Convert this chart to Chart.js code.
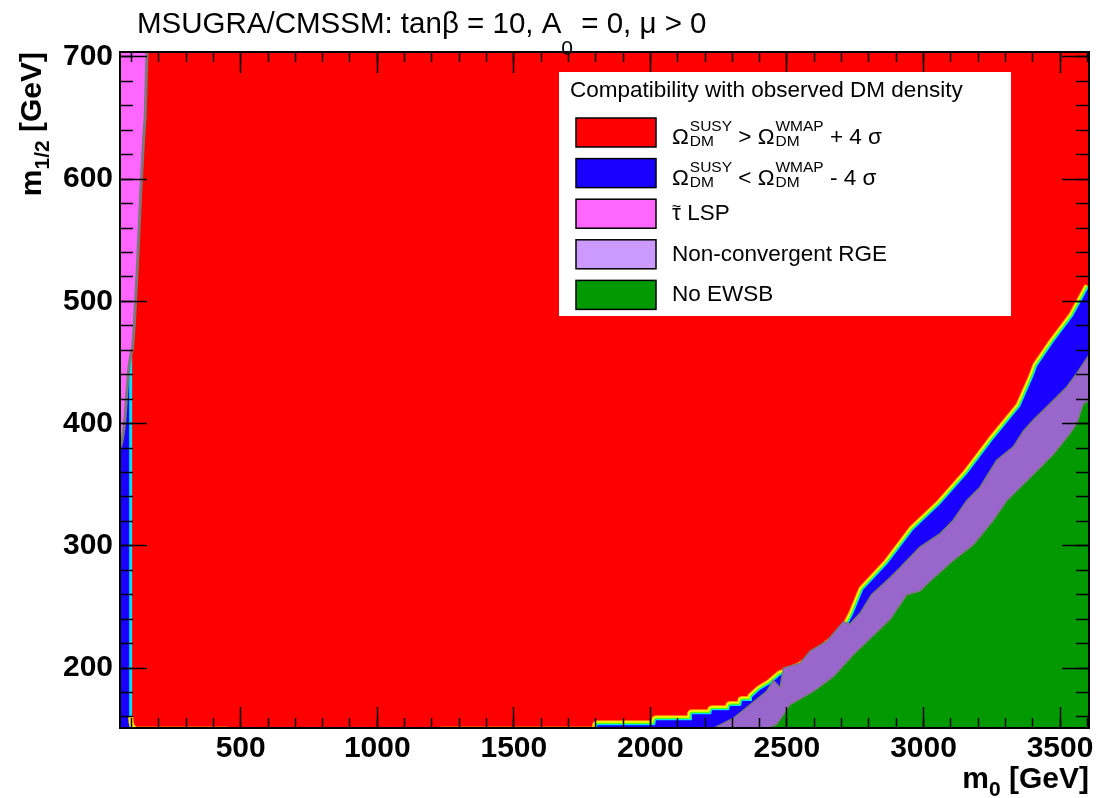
<!DOCTYPE html>
<html>
<head>
<meta charset="utf-8">
<title>MSUGRA/CMSSM DM density</title>
<script src="https://cdn.jsdelivr.net/npm/chart.js@4.4.0/dist/chart.umd.min.js"></script>
<style>
  html, body { margin: 0; padding: 0; background: #fff; }
  #wrap { width: 1100px; height: 798px; }
</style>
</head>
<body>
<div id="wrap"><canvas id="dmChart" width="1100" height="798"></canvas></div>
<script>
// Axis ranges (GeV)
const m0Min = 58, m0Max = 3606;
const m12Min = 151, m12Max = 704;

// Tick values
const m0MajorTicks = [500, 1000, 1500, 2000, 2500, 3000, 3500];
const m12MajorTicks = [200, 300, 400, 500, 600, 700];
const m0MinorTicks = [];
for (let v = 100; v <= 3600; v += 100) m0MinorTicks.push(v);
const m12MinorTicks = [];
for (let v = 160; v <= 700; v += 20) m12MinorTicks.push(v);

// Lower edge of the red region (top of the blue band)
const bandM0 = [1805, 1805, 2017, 2021, 2149, 2152, 2222, 2226, 2288, 2292, 2332, 2336, 2369, 2372, 2401, 2438, 2475, 2548, 2621, 2650, 2705, 2742, 2779, 2867, 2962, 3061, 3160, 3255, 3354, 3401, 3416, 3474, 3548, 3606];
const bandM12 = [150, 153.3, 153.3, 157.4, 157.4, 162.3, 162.3, 165.6, 165.6, 168.9, 168.9, 173, 173, 176.2, 182, 187, 194, 201, 211, 219, 228, 244, 264, 285, 313, 334, 359, 387, 414, 438, 447, 466, 488, 512];

// Top of the non-convergent RGE region
const rgeM0 = [2225, 2304, 2365, 2426, 2450, 2475, 2487, 2548, 2585, 2646, 2707, 2731, 2768, 2810, 2878, 2914, 2987, 3061, 3109, 3158, 3207, 3268, 3329, 3366, 3402, 3476, 3525, 3561, 3606];
const rgeM12 = [150, 159, 170, 181, 190, 184, 200, 204, 214, 222, 238, 236, 245, 260, 274, 282, 299, 310, 321, 337, 348, 370, 381, 394, 403, 419, 430, 441, 456];

// Top of the no-EWSB region
const ewsbM0 = [2414, 2463, 2511, 2597, 2670, 2743, 2804, 2878, 2939, 2987, 3024, 3109, 3183, 3256, 3305, 3378, 3427, 3476, 3537, 3561, 3585, 3606];
const ewsbM12 = [150, 154, 170, 181, 193, 211, 224, 240, 260, 263, 271, 288, 301, 321, 337, 353, 364, 375, 392, 400, 416, 419];

// Right edge of the stau LSP region
const stauM0 = [58, 65, 75, 83, 90, 97, 104, 110, 116, 122, 128, 134, 140, 145, 150, 154, 157];
const stauM12 = [380, 385, 400, 425, 445, 456, 462, 480, 505, 530, 560, 590, 615, 635, 650, 680, 704];

// Thin blue strip at small m0
const stripM0 = [58, 95];
const stripM12 = [458, 458];
const stripEdgeM0 = [97, 97];
const stripEdgeM12 = [152, 456];

// Yellow contour pieces along the bottom edge
const edgeLowM0 = [97, 99, 104, 115, 453];
const edgeLowM12 = [160, 155, 152, 150, 150];
const edgeMidM0 = [1233, 1805];
const edgeMidM12 = [150, 150];

// Colours
const RED = '#ff0000';
const BLUE = '#1a00ff';
const PINK = '#ff66ff';
const PURPLE = '#9966cc';
const PURPLE_KEY = '#cc99ff';
const GREEN = '#009900';
const GRAY = '#7a7a7a';
const rainbow = [['#ff9900', 10], ['#ffff00', 8], ['#55ff00', 5], ['#00e0ff', 2.5]];

const FONT = '"Liberation Sans", Arial, Helvetica, sans-serif';

function pts(xs, ys) {
    return xs.map((x, i) => ({ x: x, y: ys[i] }));
}

// Datasets, listed bottom to top
let layers = [];
function addLayer(ds) {
    layers.push(Object.assign({
        showLine: true, pointRadius: 0, pointHoverRadius: 0,
        borderWidth: 0, clip: 0, fill: false, tension: 0
    }, ds));
}

addLayer({ label: 'relic density too large', data: pts([m0Min, m0Max], [m12Max, m12Max]), fill: 'start', backgroundColor: RED });
rainbow.forEach(r => {
    addLayer({ label: 'band', data: pts(bandM0, bandM12), borderColor: r[0], borderWidth: r[1], borderJoinStyle: 'round' });
});
addLayer({ label: 'relic density too small', data: pts(bandM0, bandM12), fill: 'start', backgroundColor: BLUE });
addLayer({ label: 'Non-convergent RGE', data: pts(rgeM0, rgeM12), fill: 'start', backgroundColor: PURPLE, borderColor: GRAY, borderWidth: 1.5 });
addLayer({ label: 'No EWSB', data: pts(ewsbM0, ewsbM12), fill: 'start', backgroundColor: GREEN, borderColor: GRAY, borderWidth: 1.5 });
addLayer({ label: 'strip', data: pts(stripM0, stripM12), fill: 'start', backgroundColor: BLUE });
addLayer({ label: 'strip edge', data: pts(stripEdgeM0, stripEdgeM12), borderColor: '#00e0ff', borderWidth: 3 });
addLayer({ label: 'edge low', data: pts(edgeLowM0, edgeLowM12), borderColor: '#ffee00', borderWidth: 5, borderJoinStyle: 'round' });
addLayer({ label: 'edge mid', data: pts(edgeMidM0, edgeMidM12), borderColor: '#ffee00', borderWidth: 5 });
addLayer({ label: 'stau LSP', data: pts(stauM0, stauM12), fill: 'end', backgroundColor: PINK, borderColor: GRAY, borderWidth: 3, borderJoinStyle: 'round' });

layers.forEach((d, i) => { d.order = layers.length - i; });

// One axis (ROOT style: ticks pointing into the frame, drawn over the data)
function makeAxis(axis, position, tickValues, tickLen, size, labelPadding) {
    let isX = axis === 'x';
    let cfg = {
        type: 'linear', axis: axis, position: position,
        weight: size > 0 ? 1 : 0,
        min: isX ? m0Min : m12Min,
        max: isX ? m0Max : m12Max,
        afterBuildTicks: (s) => { s.ticks = tickValues.map(v => ({ value: v })); },
        afterFit: (s) => {
            if (isX) s.height = size; else s.width = size;
            s.paddingLeft = s.paddingRight = s.paddingTop = s.paddingBottom = 0;
        },
        grid: { display: true, z: 1, drawOnChartArea: false, drawTicks: true, tickLength: tickLen, tickColor: '#000', tickWidth: 1.5 },
        border: { display: true, z: 1, color: '#000', width: 2 },
        ticks: { display: false }
    };
    if (labelPadding !== undefined) {
        cfg.ticks = {
            display: true, autoSkip: false, maxRotation: 0, color: '#000',
            padding: labelPadding,
            font: { family: FONT, size: 30, weight: 'bold' },
            callback: (v) => String(v)
        };
    }
    return cfg;
}

function fontStr(size, bold) {
    return (bold ? 'bold ' : '') + size + 'px ' + FONT;
}

// runs: [text, size, dy]
function runsWidth(ctx, runs, bold) {
    let w = 0;
    runs.forEach(r => { ctx.font = fontStr(r[1], bold); w += ctx.measureText(r[0]).width; });
    return w;
}
function drawRuns(ctx, x, y, runs, bold) {
    runs.forEach(r => {
        ctx.font = fontStr(r[1], bold);
        ctx.fillText(r[0], x, y + (r[2] || 0));
        x += ctx.measureText(r[0]).width;
    });
    return x;
}

// Omega_DM^{sup}
function omegaTerm(ctx, x, base, sup) {
    ctx.font = fontStr(22.5);
    ctx.fillText('Ω', x, base);
    x += ctx.measureText('Ω').width + 1;
    ctx.font = fontStr(15.5);
    ctx.fillText(sup, x, base - 13);
    ctx.fillText('DM', x, base + 2);
    return x + Math.max(ctx.measureText(sup).width, ctx.measureText('DM').width);
}

const legendTitle = 'Compatibility with observed DM density';
const legendColors = [RED, BLUE, PINK, PURPLE_KEY, GREEN];

const textPlugin = {
    id: 'texts',
    afterDraw(chart) {
        let ctx = chart.ctx;
        ctx.save();
        ctx.fillStyle = '#000';
        ctx.textAlign = 'left';
        ctx.textBaseline = 'alphabetic';

        // Title
        drawRuns(ctx, 137, 33, [['MSUGRA/CMSSM: tanβ = 10, A', 29.5], ['0', 21, 22], [' = 0, μ > 0', 29.5]]);

        // x axis title, right aligned on the frame
        let xt = [['m', 30], ['0', 21, 8], [' [GeV]', 30]];
        drawRuns(ctx, chart.chartArea.right - runsWidth(ctx, xt, true), 788, xt, true);

        // y axis title, rotated, right aligned on the frame top
        let yt = [['m', 30], ['1/2', 21, 8], [' [GeV]', 30]];
        ctx.save();
        ctx.translate(41, chart.chartArea.top);
        ctx.rotate(-Math.PI / 2);
        drawRuns(ctx, -runsWidth(ctx, yt, true), 0, yt, true);
        ctx.restore();

        // Legend box
        ctx.fillStyle = '#fff';
        ctx.fillRect(559, 72, 452, 244);
        ctx.fillStyle = '#000';
        ctx.font = fontStr(22.5);
        ctx.fillText(legendTitle, 570, 97);

        legendColors.forEach((c, i) => {
            let top = 118 + i * 40.6;
            ctx.fillStyle = c;
            ctx.fillRect(576, top, 80, 29);
            ctx.strokeStyle = '#000';
            ctx.lineWidth = 1.5;
            ctx.strokeRect(576, top, 80, 29);
            ctx.fillStyle = '#000';
            let x = 672;
            if (i === 0 || i === 1) {
                let base = top + 26;
                x = omegaTerm(ctx, x, base, 'SUSY');
                x = drawRuns(ctx, x, base, [[i === 0 ? ' > ' : ' < ', 22.5]]);
                x = omegaTerm(ctx, x, base, 'WMAP');
                drawRuns(ctx, x, base, [[i === 0 ? ' + 4 σ' : ' - 4 σ', 22.5]]);
            } else if (i === 2) {
                let base = top + 21;
                ctx.font = fontStr(22.5);
                let tw = ctx.measureText('τ').width;
                ctx.fillText('τ', x, base);
                ctx.font = fontStr(16);
                ctx.fillText('~', x + tw / 2 - ctx.measureText('~').width / 2, base - 8);
                drawRuns(ctx, x + tw, base, [[' LSP', 22.5]]);
            } else {
                drawRuns(ctx, x, top + 21, [[i === 3 ? 'Non-convergent RGE' : 'No EWSB', 22.5]]);
            }
        });
        ctx.restore();
    }
};

let ctx = document.getElementById('dmChart').getContext('2d');
let dmChart = new Chart(ctx, {
    type: 'scatter',
    data: { datasets: layers },
    options: {
        responsive: false,
        devicePixelRatio: 1,
        animation: false,
        events: [],
        layout: { padding: { top: 52, right: 11, left: 0, bottom: 0 } },
        plugins: {
            legend: { display: false },
            tooltip: { enabled: false },
            title: { display: false }
        },
        scales: {
            x: makeAxis('x', 'bottom', m0MajorTicks, -21, 70, 24),
            xMinor: makeAxis('x', 'bottom', m0MinorTicks, -10, 0),
            xTop: makeAxis('x', 'top', m0MajorTicks, -21, 0),
            xTopMinor: makeAxis('x', 'top', m0MinorTicks, -10, 0),
            y: makeAxis('y', 'left', m12MajorTicks, -27, 120, 34),
            yMinor: makeAxis('y', 'left', m12MinorTicks, -13, 0),
            yRight: makeAxis('y', 'right', m12MajorTicks, -27, 0),
            yRightMinor: makeAxis('y', 'right', m12MinorTicks, -13, 0)
        }
    },
    plugins: [textPlugin]
});
</script>
</body>
</html>
